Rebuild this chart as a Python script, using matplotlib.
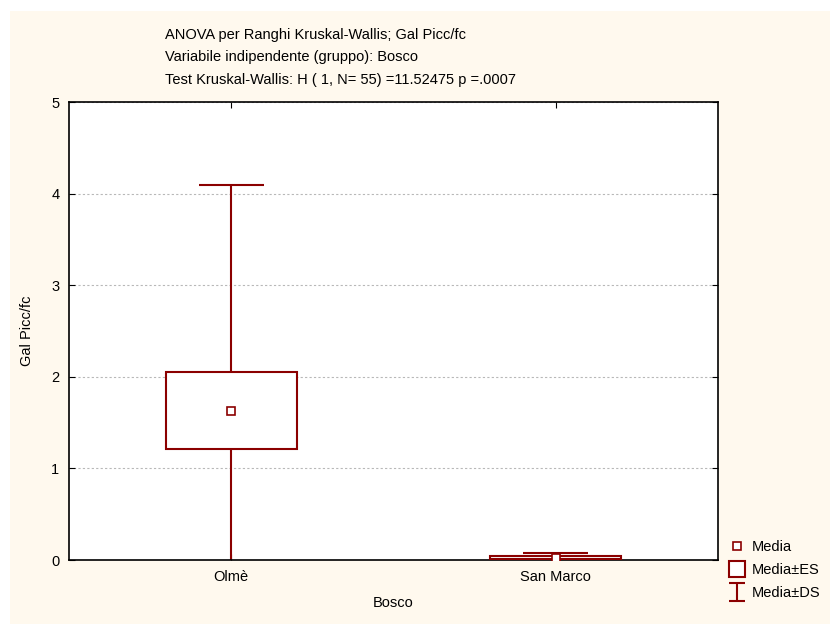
import numpy as np
import matplotlib
matplotlib.use("Agg")
import matplotlib.pyplot as plt
from matplotlib.patches import Rectangle
from matplotlib.lines import Line2D
from matplotlib.path import Path

plt.rcParams["font.family"] = ["Liberation Sans", "DejaVu Sans"]

# data
groups = ["Olmè", "San Marco"]
means = [1.63, 0.027]
se = [0.42, 0.013]
sd = [2.46, 0.045]

title_lines = [
    "ANOVA per Ranghi Kruskal-Wallis; Gal Picc/fc",
    "Variabile indipendente (gruppo): Bosco",
    "Test Kruskal-Wallis: H ( 1, N= 55) =11.52475 p =.0007",
]
y_ticks = [0, 1, 2, 3, 4, 5]

red = "#8b0000"
cream = "#fff9ee"
W, H = 830, 624

fig = plt.figure(figsize=(W / 100, H / 100), dpi=100)
fig.patch.set_facecolor("white")
# cream panel (white strip on top and left)
fig.patches.append(Rectangle((10 / W, 0), 1 - 10 / W, 1 - 11 / H,
                             transform=fig.transFigure, facecolor=cream,
                             edgecolor="none", zorder=-10))

ax = fig.add_axes([69 / W, 1 - 560 / H, (718 - 69) / W, (560 - 102) / H])
ax.set_facecolor("white")

pos = np.arange(1, len(groups) + 1)
box_w = 0.404
cap_w = 0.2
for x, m, s, d in zip(pos, means, se, sd):
    ax.vlines(x, m - d, m + d, color=red, lw=1.5, zorder=2)
    ax.hlines([m - d, m + d], x - cap_w / 2, x + cap_w / 2, color=red, lw=1.5, zorder=2)
    ax.add_patch(Rectangle((x - box_w / 2, m - s), box_w, 2 * s, facecolor="white",
                           edgecolor=red, lw=1.5, zorder=3))
ax.plot(pos, means, "s", ms=6, mfc="white", mec=red, mew=1.2, zorder=4, ls="none")

ax.set_xlim(0.5, len(groups) + 0.5)
ax.set_ylim(0, 5)
ax.set_xticks(pos)
ax.set_xticklabels(groups)
ax.set_yticks(y_ticks)
ax.tick_params(direction="in", length=4, top=True, right=True, labelsize=10.5,
               color="black", pad=7)
ax.yaxis.grid(True, color="#b8b8b8", ls=(0, (2, 2)), lw=0.8)
ax.set_axisbelow(True)
for sp in ax.spines.values():
    sp.set_linewidth(1.2)

ax.set_xlabel("Bosco", fontsize=10.5, labelpad=9)
ax.set_ylabel("Gal Picc/fc", fontsize=10.5, labelpad=12)

for i, line in enumerate(title_lines):
    fig.text(165 / W, 1 - (35 + 22.5 * i) / H, line, fontsize=10.5, va="center", ha="left")

# legend
ibar = Path([(-0.45, 0.5), (0.45, 0.5), (0, 0.5), (0, -0.5), (-0.45, -0.5), (0.45, -0.5)],
            [Path.MOVETO, Path.LINETO, Path.MOVETO, Path.LINETO, Path.MOVETO, Path.LINETO])
handles = [
    Line2D([], [], ls="none", marker="s", ms=6, mfc="white", mec=red, mew=1.2),
    Line2D([], [], ls="none", marker="s", ms=11, mfc="white", mec=red, mew=1.5),
    Line2D([], [], ls="none", marker=ibar, ms=13, mfc="none", mec=red, mew=1.5),
]
leg = fig.legend(handles, ["Media", "Media±ES", "Media±DS"], loc="lower left",
                 bbox_to_anchor=(721 / W, 1 - 607 / H), frameon=False, fontsize=10.5,
                 handlelength=1.2, handletextpad=0.4, labelspacing=0.6, borderpad=0)

fig.savefig("out.png", dpi=100, facecolor=fig.get_facecolor())
